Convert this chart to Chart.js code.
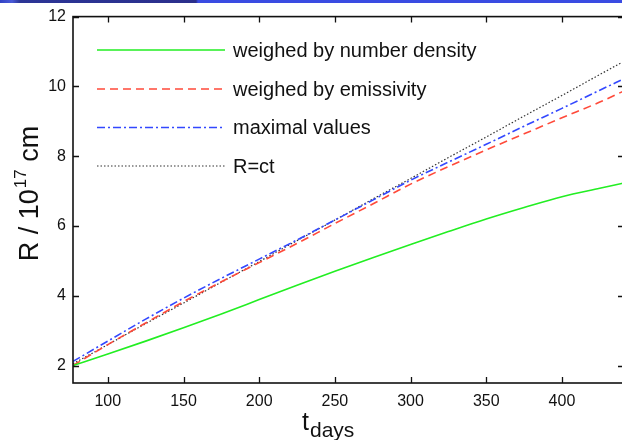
<!DOCTYPE html>
<html>
<head>
<meta charset="utf-8">
<script src="https://cdn.jsdelivr.net/npm/chart.js@4.4.1/dist/chart.umd.min.js"></script>
<style>
    html, body { margin: 0; padding: 0; background: #fff; }
    #wrap { position: relative; width: 622px; height: 440px; overflow: hidden; }
    #bar { position: absolute; left: 0; top: 0; width: 622px; height: 3px;
           background: linear-gradient(to right, #3142c4 0px, #4a5ad8 12px, #2c3596 20px, #2b2f8c 196px, #3a4be2 198px); z-index: 2; }
    #radiusChart { position: absolute; left: 0; top: 0; }
</style>
</head>
<body>
<div id="wrap">
    <div id="bar"></div>
    <canvas id="radiusChart" width="630" height="440"></canvas>
</div>
<script>
// Время в днях и радиусы (в единицах 10^17 см)
const tDays = [77, 100, 125, 150, 175, 200, 225, 250, 275, 300, 325, 350, 375, 400, 425, 441];
const rDensity    = [2.0, 2.33, 2.7, 3.08, 3.48, 3.89, 4.3, 4.7, 5.09, 5.47, 5.84, 6.2, 6.53, 6.84, 7.08, 7.23];
const rEmissivity = [2.0, 2.6, 3.22, 3.83, 4.4, 4.95, 5.5, 6.07, 6.63, 7.2, 7.7, 8.18, 8.64, 9.1, 9.55, 9.87];
const rMaximal    = [2.12, 2.7, 3.33, 3.93, 4.5, 5.05, 5.6, 6.17, 6.74, 7.31, 7.83, 8.34, 8.86, 9.37, 9.89, 10.22];
const rLight      = [2.05, 2.6, 3.2, 3.79, 4.39, 4.98, 5.58, 6.17, 6.77, 7.36, 7.96, 8.55, 9.15, 9.74, 10.34, 10.72];

const seriesLabels = ['weighed by number density', 'weighed by emissivity', 'maximal values', 'R=ct'];
const xTicks = [100, 150, 200, 250, 300, 350, 400];
const yTicks = [2, 4, 6, 8, 10, 12];

const FONT = "'Liberation Sans', Arial, sans-serif";

function pts(values) {
    return tDays.map((t, i) => ({ x: t, y: values[i] }));
}

function line(label, values, color, dash, width) {
    return {
        label: label,
        data: pts(values),
        borderColor: color,
        borderWidth: width,
        borderDash: dash,
        pointRadius: 0,
        fill: false,
        cubicInterpolationMode: 'monotone'
    };
}

// Рамка, внутренние засечки, легенда и подписи осей
const framePlugin = {
    id: 'frame',
    afterDraw(chart) {
        const ctx = chart.ctx;
        const a = chart.chartArea;
        const xs = chart.scales.x;
        const ys = chart.scales.y;
        ctx.save();

        ctx.strokeStyle = '#111';
        ctx.lineWidth = 1.6;
        ctx.setLineDash([]);
        ctx.strokeRect(a.left, a.top, a.right - a.left, a.bottom - a.top);

        ctx.lineWidth = 1.3;
        const tl = 6;
        xTicks.forEach(v => {
            const px = Math.round(xs.getPixelForValue(v)) + 0.5;
            ctx.beginPath();
            ctx.moveTo(px, a.bottom); ctx.lineTo(px, a.bottom - tl);
            ctx.moveTo(px, a.top); ctx.lineTo(px, a.top + tl);
            ctx.stroke();
        });
        yTicks.forEach(v => {
            const py = Math.round(ys.getPixelForValue(v)) + 0.5;
            ctx.beginPath();
            ctx.moveTo(a.left, py); ctx.lineTo(a.left + tl, py);
            ctx.moveTo(a.right, py); ctx.lineTo(a.right - tl, py);
            ctx.stroke();
        });

        // легенда
        const rowY = [50, 89, 127.5, 166];
        chart.data.datasets.forEach((ds, i) => {
            ctx.strokeStyle = ds.borderColor;
            ctx.lineWidth = ds.borderWidth;
            ctx.setLineDash(ds.borderDash || []);
            ctx.beginPath();
            ctx.moveTo(97, rowY[i]);
            ctx.lineTo(225, rowY[i]);
            ctx.stroke();
            ctx.setLineDash([]);
            ctx.fillStyle = '#111';
            ctx.font = '20px ' + FONT;
            ctx.textAlign = 'left';
            ctx.textBaseline = 'middle';
            ctx.fillText(ds.label, 233, rowY[i] + 1);
        });

        // подпись оси X: t с индексом days
        ctx.fillStyle = '#111';
        ctx.textBaseline = 'alphabetic';
        ctx.textAlign = 'left';
        ctx.font = '25px ' + FONT;
        ctx.fillText('t', 302, 430);
        ctx.font = '21px ' + FONT;
        ctx.fillText('days', 310, 437);

        // подпись оси Y: R / 10^17 cm
        ctx.translate(38, 194);
        ctx.rotate(-Math.PI / 2);
        const p1 = 'R / 10';
        const p2 = '17';
        const p3 = ' cm';
        ctx.font = '27px ' + FONT;
        const w1 = ctx.measureText(p1).width;
        const w3 = ctx.measureText(p3).width;
        ctx.font = '17px ' + FONT;
        const w2 = ctx.measureText(p2).width;
        const x0 = -(w1 + w2 + w3) / 2;
        ctx.font = '27px ' + FONT;
        ctx.fillText(p1, x0, 0);
        ctx.font = '17px ' + FONT;
        ctx.fillText(p2, x0 + w1 + 1, -12);
        ctx.font = '27px ' + FONT;
        ctx.fillText(p3, x0 + w1 + w2 + 1, 0);

        ctx.restore();
    }
};

function initChart() {
    new Chart(document.getElementById('radiusChart'), {
        type: 'line',
        data: {
            datasets: [
                line(seriesLabels[0], rDensity, '#22ee22', [], 1.6),
                line(seriesLabels[1], rEmissivity, '#ff4a3a', [8, 5], 1.6),
                line(seriesLabels[2], rMaximal, '#3348ff', [8, 3, 2, 3], 1.6),
                line(seriesLabels[3], rLight, '#333333', [1.5, 2], 1.2)
            ]
        },
        options: {
            responsive: false,
            animation: false,
            layout: { padding: { top: 15, right: 6, left: 0, bottom: 0 } },
            plugins: {
                legend: { display: false },
                tooltip: { enabled: false }
            },
            scales: {
                x: {
                    type: 'linear',
                    min: 77,
                    max: 441,
                    grid: { display: false, drawTicks: false },
                    border: { display: false },
                    afterBuildTicks: s => { s.ticks = xTicks.map(v => ({ value: v })); },
                    afterFit: s => { s.height = 57; },
                    ticks: {
                        padding: 9,
                        maxRotation: 0,
                        color: '#111',
                        font: { family: FONT, size: 16 }
                    }
                },
                y: {
                    min: 1.5,
                    max: 12,
                    grid: { display: false, drawTicks: false },
                    border: { display: false },
                    afterBuildTicks: s => { s.ticks = yTicks.map(v => ({ value: v })); },
                    afterFit: s => { s.width = 73; },
                    ticks: {
                        padding: 7,
                        color: '#111',
                        font: { family: FONT, size: 16 }
                    }
                }
            }
        },
        plugins: [framePlugin]
    });
}

document.addEventListener('DOMContentLoaded', initChart);
</script>
</body>
</html>
